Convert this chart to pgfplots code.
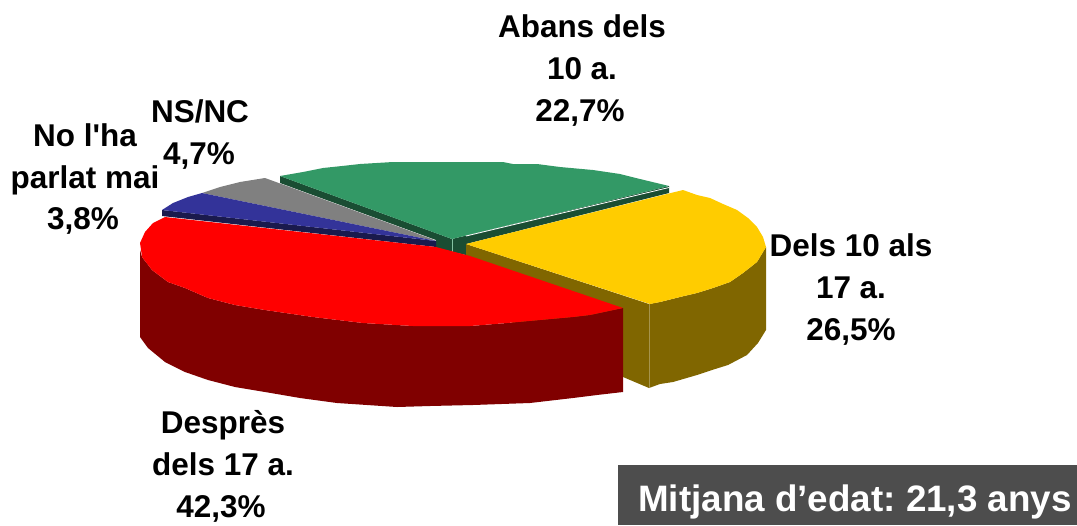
\documentclass[border=0pt]{standalone}
\usepackage{fontspec}
\setmainfont{Liberation Sans}
\newfontfamily\plainf{Liberation Sans}
\usepackage{pgfplots}
\pgfplotsset{compat=1.18}
\definecolor{gn}{HTML}{339966}
\definecolor{gnd}{HTML}{1A4D33}
\definecolor{yl}{HTML}{FFCC00}
\definecolor{yld}{HTML}{806600}
\definecolor{rd}{HTML}{FF0000}
\definecolor{rdd}{HTML}{800000}
\definecolor{bl}{HTML}{333399}
\definecolor{bld}{HTML}{1A1A4D}
\definecolor{gy}{HTML}{808080}
\definecolor{boxc}{HTML}{4D4D4D}
\newcommand{\lab}{\fontsize{23.6}{28}\selectfont\bfseries\frenchspacing}
\begin{document}
\begin{tikzpicture}
\useasboundingbox (0,0) rectangle (807.75pt,393.75pt);
\begin{axis}[scale only axis,width=807.75pt,height=393.75pt,at={(0,0)},anchor=south west,
  xmin=0,xmax=1077,ymin=0,ymax=525,y dir=reverse,hide axis,clip=false]
  % pie outlines in pixels
  % green slice, side faces
  \addplot[fill=gnd,draw=none] coordinates {(280,176) (280,183) (436,240) (436,248) (470,256) (466,244) (669,193) (669,186) (452,239)} --cycle;
  % yellow slice, sides
  \addplot[fill=yld,draw=none] coordinates {(466,244) (649,304) (649,388) (623,377) (466,300)} --cycle;
  \addplot[fill=yld,draw=none] coordinates {(649,304) (660,302) (680,297) (697,293) (713,288) (730,282) (743,273) (757,262) (766,247) (766,330) (758,343) (747,355) (728,365) (712,370) (697,375) (673,382) (660,384) (649,388)} --cycle;
  \addplot[draw=yld!70!white,line width=0.5pt] coordinates {(649,304) (649,388)};
  % red slice, side
  \addplot[fill=rdd,draw=none] coordinates {(140,250) (142,257) (152,270) (168,282) (185,288) (208,298) (235,305) (265,310) (313,317) (363,323) (413,326) (470,326) (507,323) (540,320) (573,317) (590,315) (623,308) (623,392) (597,395) (573,398) (530,403) (473,405) (430,406) (397,407) (337,403) (300,398) (265,392) (235,387) (208,380) (185,372) (165,362) (148,348) (140,337)} --cycle;
  % green top
  \addplot[fill=gn,draw=none] coordinates {(280,176) (303,172) (323,168) (342,166) (360,164) (393,162) (503,162) (513,164) (537,164) (560,167) (593,170) (620,174) (640,179) (669,186) (452,239)} --cycle;
  \addplot[draw=white,line width=0.6pt] coordinates {(466,236) (669,187.5)};
  \addplot[draw=gn!60!white,line width=0.4pt] coordinates {(452,239) (452,254)};
  % grey
  \addplot[fill=gy,draw=none] coordinates {(202,193) (220,187) (240,182) (265,178) (432,239) (436,241)} --cycle;
  % blue
  \addplot[fill=bld,draw=none] coordinates {(162,210) (162,216) (436,247) (436,241)} --cycle;
  \addplot[fill=bl,draw=none] coordinates {(162,210) (173,203) (188,197) (202,193) (436,241)} --cycle;
  % yellow top
  \addplot[fill=yl,draw=none] coordinates {(466,244) (683,190) (697,195) (710,198) (723,204) (737,210) (748,218) (757,227) (763,237) (766,247) (757,262) (743,273) (730,282) (713,288) (697,293) (680,297) (660,302) (650,304)} --cycle;
  % red top
  \addplot[fill=rd,draw=none] coordinates {(165,217) (436,247) (470,256) (623,308) (590,315) (573,317) (540,320) (507,323) (470,326) (413,326) (363,323) (313,317) (265,310) (235,305) (208,298) (185,288) (168,282) (152,270) (142,257) (140,243) (145,232) (153,223)} --cycle;
  % box
  \addplot[fill=boxc,draw=none] coordinates {(618,465) (1077,465) (1077,525) (618,525)} --cycle;

  \node[anchor=base,inner sep=0pt] at (axis cs:582,37) {\lab Abans dels};
  \node[anchor=base,inner sep=0pt] at (axis cs:582,79) {\lab 10 a.};
  \node[anchor=base,inner sep=0pt] at (axis cs:580,121) {\lab 22,7\%};
  \node[anchor=base,inner sep=0pt] at (axis cs:200,122) {\lab NS/NC};
  \node[anchor=base,inner sep=0pt] at (axis cs:199,164) {\lab 4,7\%};
  \node[anchor=base,inner sep=0pt] at (axis cs:85,146) {\lab\plainf\bfseries No l'ha};
  \node[anchor=base,inner sep=0pt] at (axis cs:85,188) {\lab parlat mai};
  \node[anchor=base,inner sep=0pt] at (axis cs:83,229) {\lab 3,8\%};
  \node[anchor=base,inner sep=0pt] at (axis cs:851,256) {\lab Dels 10 als};
  \node[anchor=base,inner sep=0pt] at (axis cs:851,298) {\lab 17 a.};
  \node[anchor=base,inner sep=0pt] at (axis cs:851,340) {\lab 26,5\%};
  \node[anchor=base,inner sep=0pt] at (axis cs:223,433) {\lab Desprès};
  \node[anchor=base,inner sep=0pt] at (axis cs:223,475) {\lab dels 17 a.};
  \node[anchor=base,inner sep=0pt] at (axis cs:221,517) {\lab 42,3\%};
  \node[anchor=base,inner sep=0pt,text=white] at (axis cs:855,511) {\fontsize{27.6}{32}\selectfont\bfseries\frenchspacing Mitjana d’edat: 21,3 anys};
\end{axis}
\end{tikzpicture}
\end{document}
